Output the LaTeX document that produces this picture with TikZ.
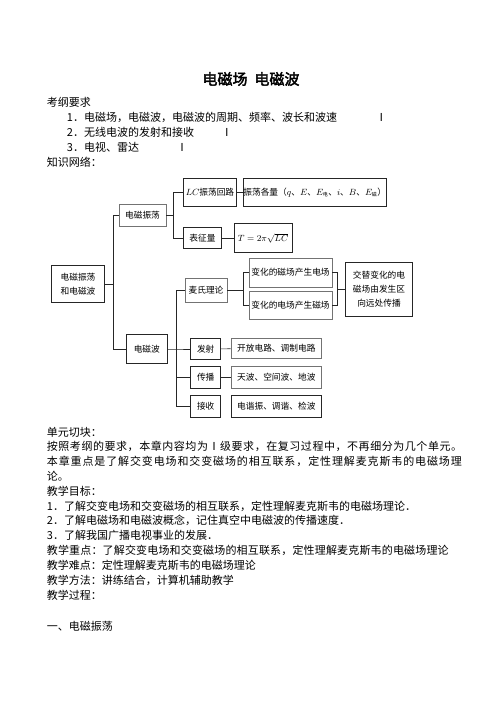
\documentclass[tikz,border=0pt]{standalone}
\usepackage{fontspec}
\setmainfont{Noto Sans CJK SC}
\newfontfamily\titlefont[FakeBold=2.5]{Noto Sans CJK SC}
\tikzset{
  box/.style={draw=black!85,line width=.7pt,inner sep=0pt,align=center,font=\fontsize{8.7}{14}\selectfont},
  gbox/.style={box,draw=black!55},
  txt/.style={anchor=west,inner sep=0pt,font=\fontsize{11}{14}\selectfont},
  link/.style={line width=.7pt,draw=black!85}
}
\begin{document}
\begin{tikzpicture}[x=1pt,y=-1pt]
\useasboundingbox (0,0) rectangle (500,706);
% heading
\node[inner sep=0pt,font=\titlefont\fontsize{15}{18}\selectfont] (title) at (251,79) {电磁场\hspace{7pt}电磁波};
\node[txt] (req) at (46.7,102) {考纲要求};
\node[txt] (req1) at (66.7,117) {\makebox[309pt][l]{1．电磁场，电磁波，电磁波的周期、频率、波长和波速}Ⅰ};
\node[txt] (req2) at (66.7,132) {\makebox[154.6pt][l]{2．无线电波的发射和接收}Ⅰ};
\node[txt] (req3) at (66.7,147.5) {\makebox[109.6pt][l]{3．电视、雷达}Ⅰ};
\node[txt] (net) at (46.7,162) {知识网络：};
% knowledge tree
\node[box,minimum width=52.6,minimum height=36.6] (root) at (78,284) {电磁振荡\\和电磁波};
\node[gbox,minimum width=47,minimum height=22] (osc) at (142.5,215) {电磁振荡};
\node[box,minimum width=41.7,minimum height=28.6] (wave) at (146.8,349) {电磁波};
\node[box,minimum width=53.4,minimum height=28.4] (lc) at (210,192.4) {$LC$振荡回路};
\node[box,minimum width=136,minimum height=28.6] (qty) at (314.7,192.4) {振荡各量（$q$、$E$、$E_{\mbox{\tiny 电}}$、$i$、$B$、$E_{\mbox{\tiny 磁}}$）};
\node[box,minimum width=38.7,minimum height=21] (char) at (202.4,238) {表征量};
\node[box,minimum width=58,minimum height=29] (per) at (263,238) {$T=2\pi\sqrt{LC}$};
\node[gbox,minimum width=42,minimum height=24] (max) at (206,290) {麦氏理论};
\node[gbox,minimum width=83,minimum height=29] (bh) at (290.5,272.5) {变化的磁场产生电场};
\node[gbox,minimum width=83,minimum height=28] (be) at (290.5,305) {变化的电场产生磁场};
\node[box,minimum width=66.6,minimum height=54] (alt) at (379,289) {交替变化的电\\磁场由发生区\\向远处传播};
\node[box,minimum width=30,minimum height=21] (emit) at (205.7,349) {发射};
\node[gbox,minimum width=90.7,minimum height=20.5] (emitc) at (276.3,348.5) {开放电路、调制电路};
\node[box,minimum width=30,minimum height=21.3] (prop) at (205.7,377.3) {传播};
\node[gbox,minimum width=90.7,minimum height=21.3] (propc) at (276.3,377.3) {天波、空间波、地波};
\node[box,minimum width=30,minimum height=22] (recv) at (205.7,406) {接收};
\node[box,minimum width=90.7,minimum height=22] (recvc) at (276.3,406) {电谐振、调谐、检波};
\coordinate (t0) at (113.3,284);
\coordinate (t1) at (173.3,215);
\coordinate (t2) at (176.7,349);
\coordinate (t3) at (243.3,290);
\coordinate (t4) at (337.3,289);
\draw[link] (root.east) -- (t0);
\draw[link] (osc.west) -| (t0) |- (wave.west);
\draw[link] (osc.east) -- (t1);
\draw[link] (lc.west) -| (t1) |- (char.west);
\draw[link] (lc) -- (qty);
\draw[link] (char) -- (per);
\draw[link] (wave.east) -- (t2) -- (emit.west);
\draw[link] (max.west) -| (t2) |- (recv.west);
\draw[link] (prop.west) -- (prop.west -| t2);
\draw[link] (max.east) -- (t3);
\draw[link] (bh.west) -| (t3) |- (be.west);
\draw[link] (bh.east) -| (t4) |- (be.east);
\draw[link] (t4) -- (alt.west);
\draw[link] (emit) -- (emitc);
\draw[link] (prop) -- (propc);
% text below
\node[txt] (unit) at (46.7,432) {单元切块：};
\node[txt] (p1) at (46.7,446.8) {\addfontfeature{LetterSpace=5}按照考纲的要求，本章内容均为Ⅰ级要求，在复习过程中，不再细分为几个单元。};
\node[txt] (p2) at (46.7,461.6) {\addfontfeature{LetterSpace=8}本章重点是了解交变电场和交变磁场的相互联系，定性理解麦克斯韦的电磁场理};
\node[txt] (p3) at (46.7,476.4) {论。};
\node[txt] (goal) at (46.7,491.2) {教学目标：};
\node[txt] (g1) at (46.7,506) {1．了解交变电场和交变磁场的相互联系，定性理解麦克斯韦的电磁场理论．};
\node[txt] (g2) at (46.7,520.8) {2．了解电磁场和电磁波概念，记住真空中电磁波的传播速度．};
\node[txt] (g3) at (46.7,535.6) {3．了解我国广播电视事业的发展．};
\node[txt] (key) at (46.7,550.4) {\addfontfeature{LetterSpace=1.5}教学重点：了解交变电场和交变磁场的相互联系，定性理解麦克斯韦的电磁场理论};
\node[txt] (hard) at (46.7,565.2) {教学难点：定性理解麦克斯韦的电磁场理论};
\node[txt] (meth) at (46.7,580) {教学方法：讲练结合，计算机辅助教学};
\node[txt] (proc) at (46.7,594.8) {教学过程：};
\node[txt] (sec) at (46.7,626) {一、电磁振荡};
\end{tikzpicture}
\end{document}
